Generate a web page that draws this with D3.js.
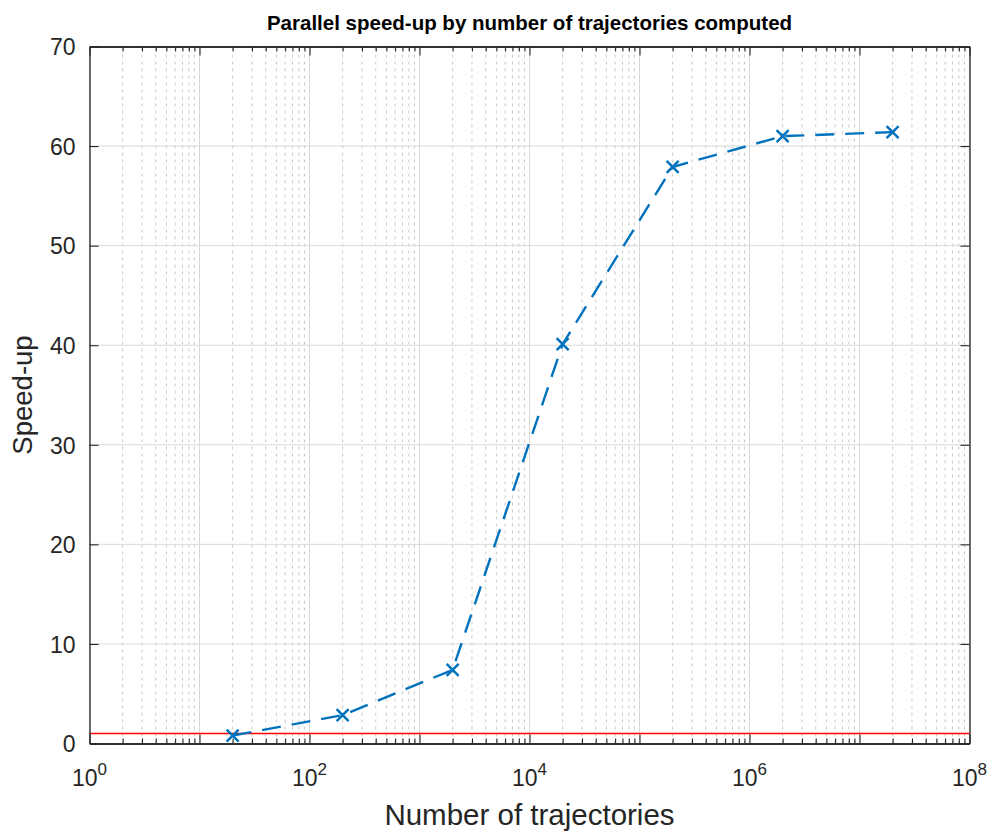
<!DOCTYPE html>
<html>
<head>
<meta charset="utf-8">
<script src="https://cdn.jsdelivr.net/npm/d3@7"></script>
<style>
  html, body { margin: 0; padding: 0; background: #fff; }
  svg { display: block; font-family: "Liberation Sans", Arial, Helvetica, sans-serif; }
</style>
</head>
<body>
<svg id="chart" width="993" height="835"></svg>
<script>
// Trajectory counts and measured parallel speed-up
const trajectories = [20, 200, 2000, 20000, 200000, 2000000, 20000000];
const speedup = [0.8, 2.85, 7.4, 40.1, 57.9, 61.0, 61.4];
// Reference line: no speed-up
const baseline = [1];
const yTicks = [0, 10, 20, 30, 40, 50, 60, 70];
const xExponents = [0, 2, 4, 6, 8];

const svg = d3.select("#chart");
const W = 993, H = 835;
const margin = { left: 89.5, right: W - 969.5, top: 46.5, bottom: H - 743.5 };
const x0 = margin.left, x1 = W - margin.right, y0 = H - margin.bottom, y1 = margin.top;

const x = d3.scaleLog().domain([1, 1e8]).range([x0, x1]);
const y = d3.scaleLinear().domain([0, 70]).range([y0, y1]);

const axisColor = "#262626";
const fontFam = "Liberation Sans, Arial, sans-serif";

// Minor grid (dotted) at 2..9 within each decade
const minorVals = [];
for (let e = 0; e < 8; e++) for (let k = 2; k <= 9; k++) minorVals.push(k * Math.pow(10, e));
const g = svg.append("g");
g.selectAll("line.minor").data(minorVals).enter().append("line")
  .attr("x1", d => x(d)).attr("x2", d => x(d))
  .attr("y1", y0).attr("y2", y1)
  .attr("stroke", "#c8c8c8").attr("stroke-width", 1)
  .attr("stroke-dasharray", "3,4");

// Major grid
const majorX = d3.range(0, 9).map(e => Math.pow(10, e));
g.selectAll("line.mx").data(majorX).enter().append("line")
  .attr("x1", d => x(d)).attr("x2", d => x(d))
  .attr("y1", y0).attr("y2", y1)
  .attr("stroke", "#d9d9d9").attr("stroke-width", 1);
g.selectAll("line.my").data(yTicks).enter().append("line")
  .attr("x1", x0).attr("x2", x1)
  .attr("y1", d => y(d)).attr("y2", d => y(d))
  .attr("stroke", "#d9d9d9").attr("stroke-width", 1);

// Baseline at speed-up 1
svg.selectAll("line.base").data(baseline).enter().append("line")
  .attr("x1", x0).attr("x2", x1)
  .attr("y1", d => y(d)).attr("y2", d => y(d))
  .attr("stroke", "#ff0000").attr("stroke-width", 1.6);

// Data line
const pts = trajectories.map((t, i) => [t, speedup[i]]);
const line = d3.line().x(d => x(d[0])).y(d => y(d[1]));
svg.append("path").datum(pts)
  .attr("d", line)
  .attr("fill", "none")
  .attr("stroke", "#0072BD")
  .attr("stroke-width", 2.4)
  .attr("stroke-dasharray", "19,11");

// Cross markers
const m = 6;
const mk = svg.append("g").attr("stroke", "#0072BD").attr("stroke-width", 2.5);
pts.forEach(p => {
  const cx = x(p[0]), cy = y(p[1]);
  mk.append("line").attr("x1", cx - m).attr("y1", cy - m).attr("x2", cx + m).attr("y2", cy + m);
  mk.append("line").attr("x1", cx - m).attr("y1", cy + m).attr("x2", cx + m).attr("y2", cy - m);
});

// Axes (ticks pointing inward)
const noLabel = () => "";
const bottomAxis = d3.axisBottom(x).tickValues(majorX).tickSize(-9).tickSizeOuter(0).tickFormat(noLabel);
const bottomMinor = d3.axisBottom(x).tickValues(minorVals).tickSize(-5).tickSizeOuter(0).tickFormat(noLabel);
const topAxis = d3.axisTop(x).tickValues(majorX).tickSize(-9).tickSizeOuter(0).tickFormat(noLabel);
const topMinor = d3.axisTop(x).tickValues(minorVals).tickSize(-5).tickSizeOuter(0).tickFormat(noLabel);
const leftAxis = d3.axisLeft(y).tickValues(yTicks).tickSize(-9).tickSizeOuter(0).tickPadding(14).tickFormat(d3.format("d"));
const rightAxis = d3.axisRight(y).tickValues(yTicks).tickSize(-9).tickSizeOuter(0).tickFormat(noLabel);

function style(sel) {
  sel.select(".domain").attr("stroke", axisColor).attr("stroke-width", 1.3);
  sel.selectAll(".tick line").attr("stroke", axisColor).attr("stroke-width", 1.1);
  sel.selectAll(".tick text").attr("fill", axisColor).attr("font-size", 23)
    .attr("font-family", fontFam).attr("dy", "0.36em");
}
svg.append("g").attr("transform", `translate(0,${y0})`).call(bottomMinor).call(style);
svg.append("g").attr("transform", `translate(0,${y1})`).call(topMinor).call(style);
svg.append("g").attr("transform", `translate(0,${y0})`).call(bottomAxis).call(style);
svg.append("g").attr("transform", `translate(0,${y1})`).call(topAxis).call(style);
svg.append("g").attr("transform", `translate(${x0},0)`).call(leftAxis).call(style);
svg.append("g").attr("transform", `translate(${x1},0)`).call(rightAxis).call(style);

// X tick labels with superscript exponent
const xl = svg.append("g").attr("fill", axisColor).attr("font-family", fontFam);
xExponents.forEach(e => {
  const t = xl.append("text")
    .attr("x", x(Math.pow(10, e)))
    .attr("y", y0 + 42)
    .attr("text-anchor", "middle")
    .attr("font-size", 23);
  t.append("tspan").text("10");
  t.append("tspan").attr("dy", -11).attr("font-size", 17).text(String(e));
});

// Title and axis labels
svg.append("text")
  .attr("x", (x0 + x1) / 2).attr("y", 30)
  .attr("text-anchor", "middle")
  .attr("font-size", 20.5).attr("font-weight", "bold")
  .attr("fill", "#000")
  .text("Parallel speed-up by number of trajectories computed");

svg.append("text")
  .attr("x", (x0 + x1) / 2).attr("y", 825)
  .attr("text-anchor", "middle")
  .attr("font-size", 29.5).attr("fill", axisColor)
  .text("Number of trajectories");

svg.append("text")
  .attr("transform", `translate(32,${(y0 + y1) / 2}) rotate(-90)`)
  .attr("text-anchor", "middle")
  .attr("font-size", 27.5).attr("fill", axisColor)
  .text("Speed-up");
</script>
</body>
</html>
